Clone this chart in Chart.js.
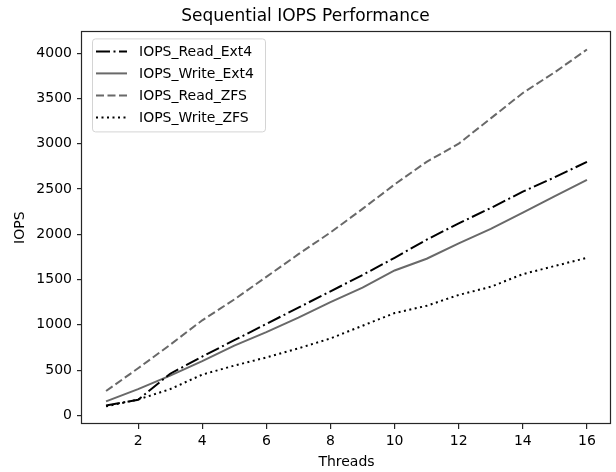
<!DOCTYPE html>
<html>
<head>
<meta charset="utf-8">
<script src="https://cdn.jsdelivr.net/npm/chart.js@4/dist/chart.umd.min.js"></script>
<style>
  html, body { margin: 0; padding: 0; background: #fff; }
  #wrap { width: 616px; height: 472px; }
</style>
</head>
<body>
<div id="wrap"><canvas id="chart"></canvas></div>
<script>
const THREADS = [1, 2, 3, 4, 5, 6, 7, 8, 9, 10, 11, 12, 13, 14, 15, 16];
const IOPS_READ_EXT4 = [110, 172, 460, 650, 830, 1010, 1190, 1370, 1550, 1740, 1940, 2120, 2290, 2470, 2630, 2800];
const IOPS_WRITE_EXT4 = [155, 290, 440, 600, 770, 920, 1080, 1250, 1410, 1600, 1730, 1900, 2060, 2240, 2420, 2600];
const IOPS_READ_ZFS = [270, 520, 780, 1050, 1280, 1530, 1780, 2020, 2280, 2550, 2800, 3000, 3280, 3560, 3790, 4040];
const IOPS_WRITE_ZFS = [100, 175, 290, 450, 550, 640, 740, 850, 990, 1130, 1210, 1330, 1420, 1560, 1650, 1740];
const X_TICKS = [2, 4, 6, 8, 10, 12, 14, 16];
const Y_TICKS = [0, 500, 1000, 1500, 2000, 2500, 3000, 3500, 4000];

const FONT = 'DejaVu Sans';
const GRAY = '#696969';
const AXIS = '#262626';

function points(values) {
  return THREADS.map((t, i) => ({ x: t, y: values[i] }));
}

function series(label, values, color, dash) {
  return {
    label,
    data: points(values),
    borderColor: color,
    backgroundColor: color,
    borderWidth: 2,
    borderDash: dash,
    pointRadius: 0,
    tension: 0,
    fill: false,
  };
}

// axes box drawn on all four sides, like matplotlib spines
const frame = {
  id: 'frame',
  afterDatasetsDraw(chart) {
    const { ctx, chartArea: a } = chart;
    ctx.save();
    ctx.strokeStyle = AXIS;
    ctx.lineWidth = 1.2;
    ctx.strokeRect(Math.round(a.left) - 0.5, Math.round(a.top) + 0.5,
      Math.round(a.right - a.left), Math.round(a.bottom - a.top) - 1);
    ctx.restore();
  },
};

// legend inside the plot, upper left
const innerLegend = {
  id: 'innerLegend',
  afterDraw(chart) {
    const { ctx, chartArea: a } = chart;
    const x0 = a.left + 10, y0 = a.top + 7;
    const w = 173, h = 93, rowH = 22;
    ctx.save();
    ctx.beginPath();
    ctx.roundRect(x0 + 0.5, y0 + 0.5, w, h, 3);
    ctx.fillStyle = 'rgba(255,255,255,0.8)';
    ctx.fill();
    ctx.strokeStyle = '#d4d4d4';
    ctx.lineWidth = 1;
    ctx.stroke();
    ctx.font = `14px "${FONT}"`;
    ctx.textBaseline = 'middle';
    chart.data.datasets.forEach((ds, i) => {
      const y = y0 + 13 + i * rowH;
      ctx.beginPath();
      ctx.setLineDash(ds.borderDash || []);
      ctx.strokeStyle = ds.borderColor;
      ctx.lineWidth = ds.borderWidth;
      ctx.moveTo(x0 + 4, y);
      ctx.lineTo(x0 + 35, y);
      ctx.stroke();
      ctx.setLineDash([]);
      ctx.fillStyle = '#000';
      ctx.fillText(ds.label, x0 + 47, y + 1);
    });
    ctx.restore();
  },
};

new Chart(document.getElementById('chart'), {
  type: 'line',
  data: {
    datasets: [
      series('IOPS_Read_Ext4', IOPS_READ_EXT4, '#000000', [14, 3.5, 2, 3.5]),
      series('IOPS_Write_Ext4', IOPS_WRITE_EXT4, GRAY, []),
      series('IOPS_Read_ZFS', IOPS_READ_ZFS, GRAY, [8, 3.5]),
      series('IOPS_Write_ZFS', IOPS_WRITE_ZFS, '#000000', [2, 3.5]),
    ],
  },
  options: {
    responsive: true,
    maintainAspectRatio: false,
    animation: false,
    layout: { padding: { left: 0, right: 5, top: 0, bottom: 0 } },
    plugins: {
      legend: { display: false },
      tooltip: { enabled: false },
      title: {
        display: true,
        text: 'Sequential IOPS Performance',
        color: '#000',
        font: { family: FONT, size: 17, weight: 'normal' },
        padding: { top: 6, bottom: 5 },
      },
    },
    scales: {
      x: {
        type: 'linear',
        min: 0.25,
        max: 16.75,
        afterBuildTicks: (s) => { s.ticks = X_TICKS.map((v) => ({ value: v })); },
        afterFit: (s) => { s.height = 48; },
        grid: { drawOnChartArea: false, drawTicks: true, tickLength: 5, color: AXIS, lineWidth: 1.2 },
        border: { display: false },
        ticks: { color: '#000', padding: 4, maxRotation: 0, font: { family: FONT, size: 14 } },
        title: {
          display: true,
          text: 'Threads',
          color: '#000',
          font: { family: FONT, size: 14 },
          padding: { top: 0, bottom: 1.5 },
        },
      },
      y: {
        type: 'linear',
        min: -95,
        max: 4240,
        afterBuildTicks: (s) => { s.ticks = Y_TICKS.map((v) => ({ value: v })); },
        afterFit: (s) => { s.width = 82; },
        grid: { drawOnChartArea: false, drawTicks: true, tickLength: 5, color: AXIS, lineWidth: 1.2 },
        border: { display: false },
        ticks: {
          color: '#000',
          padding: 5,
          font: { family: FONT, size: 14 },
          callback: (v) => String(v),
        },
        title: {
          display: true,
          text: 'IOPS',
          color: '#000',
          font: { family: FONT, size: 14 },
          padding: { top: 12, bottom: 0 },
        },
      },
    },
  },
  plugins: [frame, innerLegend],
});
</script>
</body>
</html>
